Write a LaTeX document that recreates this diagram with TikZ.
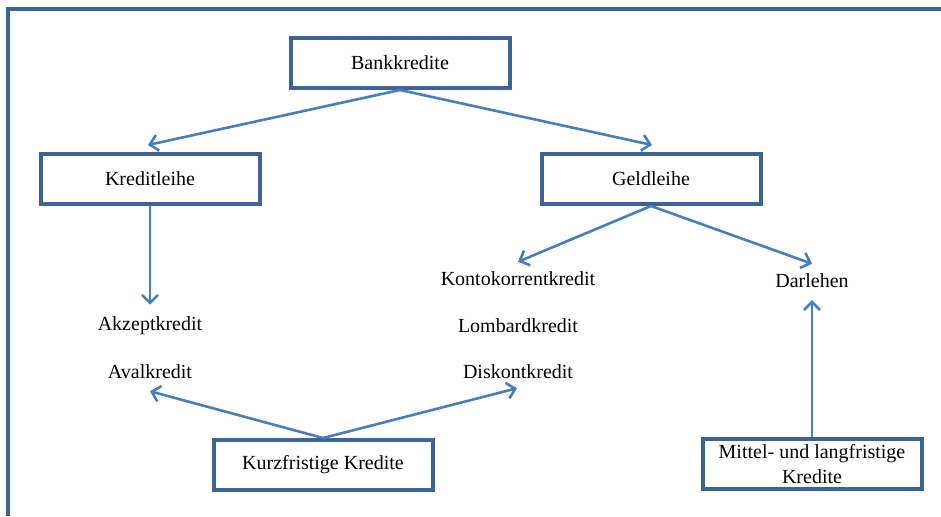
\documentclass[tikz,border=0pt]{standalone}
\usepackage{fontspec}
\setmainfont{Liberation Serif}
\usetikzlibrary{positioning,arrows.meta}
\definecolor{boxblue}{HTML}{3C6394}
\definecolor{linkblue}{HTML}{4A7EBB}

\begin{document}
\begin{tikzpicture}[x=1pt, y=1pt, on grid, font=\fontsize{20}{25}\selectfont,
  kasten/.style={draw=boxblue, line width=4pt, minimum width=219pt, minimum height=50pt, align=center, inner sep=2pt},
  eintrag/.style={inner xsep=2pt, inner ysep=12pt},
  link/.style={draw=linkblue, line width=2.6pt, -{Straight Barb[length=8pt,width=16pt]}}]
\useasboundingbox (0,0) rectangle (941,516);
\draw[boxblue, line width=4pt] (941,507) -- (8,507) -- (8,0);

%nodes
\node (bank)[kasten] at (400,453)                          {Bankkredite};
\node (kredit)[kasten, below left=116pt and 250pt of bank]  {Kreditleihe};
\node (geld)[kasten, below right=116pt and 251pt of bank]   {Geldleihe};

\node (akzept)[eintrag, below=147pt of kredit]              {Akzeptkredit};
\node (aval)[eintrag, below=46pt of akzept]                 {Avalkredit};

\node (konto)[eintrag, below left=100pt and 133pt of geld]  {Kontokorrentkredit};
\node (lombard)[eintrag, below=47pt of konto]               {Lombardkredit};
\node (diskont)[eintrag, below=46pt of lombard]             {Diskontkredit};

\node (darlehen)[eintrag, below right=102pt and 161pt of geld] {Darlehen};

\node (kurz)[kasten, below right=93pt and 173pt of aval]    {Kurzfristige Kredite};
\node (mittel)[kasten, below=183pt of darlehen]             {Mittel- und langfristige\\Kredite};

%links
\draw[link] (bank.south) to ([xshift=-2pt,yshift=7pt]kredit.north);
\draw[link] (bank.south) to ([xshift=1pt,yshift=7pt]geld.north);
\draw[link] (kredit.south) to (akzept.north);
\draw[link] (geld.south) to ([yshift=-2pt]konto.north);
\draw[link] (geld.south) to ([yshift=-2pt]darlehen.north);
\draw[link] (kurz.north) to (aval.south);
\draw[link] (kurz.north) to ([xshift=-1pt,yshift=3pt]diskont.south);
\draw[link] (mittel.north) to (darlehen.south);
\end{tikzpicture}
\end{document}
